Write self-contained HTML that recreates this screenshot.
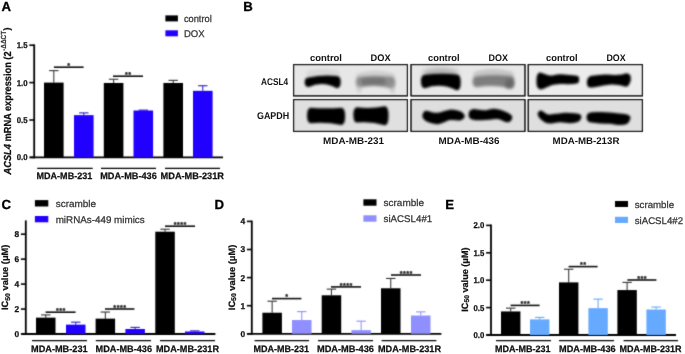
<!DOCTYPE html>
<html><head><meta charset="utf-8"><style>
html,body{margin:0;padding:0;background:#fff;width:685px;height:354px;overflow:hidden}
svg{display:block}
text{font-family:"Liberation Sans",sans-serif;text-rendering:geometricPrecision}
</style></head><body>
<svg width="685" height="354" viewBox="0 0 685 354" font-family="Liberation Sans, sans-serif">
<defs><filter id="gb" x="0" y="0" width="685" height="354" filterUnits="userSpaceOnUse" color-interpolation-filters="sRGB"><feConvolveMatrix order="3" kernelMatrix="0.01917 0.10012 0.01917 0.10012 0.52283 0.10012 0.01917 0.10012 0.01917" edgeMode="duplicate"/></filter><filter id="idf" x="0" y="0" width="685" height="354" filterUnits="userSpaceOnUse"><feOffset dx="0" dy="0"/></filter></defs>
<g filter="url(#gb)">
<rect width="685" height="354" fill="#fff"/>
<line x1="34.2" y1="44.4" x2="34.2" y2="158.3" stroke="#000" stroke-width="1.8"/>
<line x1="30" y1="157.4" x2="223" y2="157.4" stroke="#000" stroke-width="1.8"/>
<line x1="29.300000000000004" y1="157.4" x2="34.2" y2="157.4" stroke="#000" stroke-width="1.6"/>
<line x1="29.300000000000004" y1="120.0" x2="34.2" y2="120.0" stroke="#000" stroke-width="1.6"/>
<line x1="29.300000000000004" y1="82.60000000000001" x2="34.2" y2="82.60000000000001" stroke="#000" stroke-width="1.6"/>
<line x1="29.300000000000004" y1="45.20000000000002" x2="34.2" y2="45.20000000000002" stroke="#000" stroke-width="1.6"/>
<line x1="53.8" y1="70.63200000000002" x2="53.8" y2="82.60000000000001" stroke="#333" stroke-width="1.05"/>
<line x1="49.099999999999994" y1="70.63200000000002" x2="58.5" y2="70.63200000000002" stroke="#333" stroke-width="1.1"/>
<rect x="44" y="82.60000000000001" width="19.6" height="74.8" fill="#000"/>
<line x1="83.8" y1="112.894" x2="83.8" y2="115.138" stroke="#2a20c0" stroke-width="1.05"/>
<line x1="79.1" y1="112.894" x2="88.5" y2="112.894" stroke="#2a20c0" stroke-width="1.1"/>
<rect x="74" y="115.138" width="19.6" height="42.262" fill="#2200ff"/>
<line x1="113.6" y1="79.23400000000001" x2="113.6" y2="82.974" stroke="#333" stroke-width="1.05"/>
<line x1="108.89999999999999" y1="79.23400000000001" x2="118.3" y2="79.23400000000001" stroke="#333" stroke-width="1.1"/>
<rect x="103.8" y="82.974" width="19.6" height="74.426" fill="#000"/>
<line x1="143.3" y1="110.1264" x2="143.3" y2="110.50040000000001" stroke="#2a20c0" stroke-width="1.05"/>
<line x1="138.60000000000002" y1="110.1264" x2="148.0" y2="110.1264" stroke="#2a20c0" stroke-width="1.1"/>
<rect x="133.5" y="110.50040000000001" width="19.6" height="46.89959999999999" fill="#2200ff"/>
<line x1="173.20000000000002" y1="80.35600000000001" x2="173.20000000000002" y2="82.974" stroke="#333" stroke-width="1.05"/>
<line x1="168.50000000000003" y1="80.35600000000001" x2="177.9" y2="80.35600000000001" stroke="#333" stroke-width="1.1"/>
<rect x="163.4" y="82.974" width="19.6" height="74.426" fill="#000"/>
<line x1="202.8" y1="85.7416" x2="202.8" y2="90.828" stroke="#2a20c0" stroke-width="1.05"/>
<line x1="198.10000000000002" y1="85.7416" x2="207.5" y2="85.7416" stroke="#2a20c0" stroke-width="1.1"/>
<rect x="193" y="90.828" width="19.6" height="66.572" fill="#2200ff"/>
<line x1="53.9" y1="67.2" x2="83.6" y2="67.2" stroke="#111" stroke-width="1.6"/>
<text x="69.0" y="68.0" font-size="7.2" font-weight="bold" text-anchor="middle" fill="#1a1a1a" stroke="#1a1a1a" stroke-width="0.3" letter-spacing="0.5">*</text>
<line x1="113" y1="76.2" x2="143" y2="76.2" stroke="#111" stroke-width="1.6"/>
<text x="128.25" y="77.0" font-size="7.2" font-weight="bold" text-anchor="middle" fill="#1a1a1a" stroke="#1a1a1a" stroke-width="0.3" letter-spacing="0.5">**</text>
<line x1="37.2" y1="168.4" x2="92.7" y2="168.4" stroke="#000" stroke-width="1.4"/>
<line x1="101" y1="168.4" x2="156" y2="168.4" stroke="#000" stroke-width="1.4"/>
<line x1="165" y1="168.4" x2="220" y2="168.4" stroke="#000" stroke-width="1.4"/>
<rect x="165.4" y="15.4" width="12.5" height="6" fill="#000"/>
<rect x="165.4" y="30.3" width="12.5" height="6" fill="#2200ff"/>
<line x1="25.8" y1="220.4" x2="25.8" y2="334.9" stroke="#000" stroke-width="1.8"/>
<line x1="21.4" y1="334" x2="215.4" y2="334" stroke="#000" stroke-width="1.8"/>
<line x1="20.9" y1="334.0" x2="25.8" y2="334.0" stroke="#000" stroke-width="1.6"/>
<line x1="20.9" y1="309.05" x2="25.8" y2="309.05" stroke="#000" stroke-width="1.6"/>
<line x1="20.9" y1="284.1" x2="25.8" y2="284.1" stroke="#000" stroke-width="1.6"/>
<line x1="20.9" y1="259.15" x2="25.8" y2="259.15" stroke="#000" stroke-width="1.6"/>
<line x1="20.9" y1="234.2" x2="25.8" y2="234.2" stroke="#000" stroke-width="1.6"/>
<line x1="45.75" y1="314.91325" x2="45.75" y2="317.65775" stroke="#333" stroke-width="1.05"/>
<line x1="41.05" y1="314.91325" x2="50.45" y2="314.91325" stroke="#333" stroke-width="1.1"/>
<rect x="36" y="317.65775" width="19.5" height="16.34224999999998" fill="#000"/>
<line x1="75.75" y1="322.14875" x2="75.75" y2="324.64375" stroke="#2a20c0" stroke-width="1.05"/>
<line x1="71.05" y1="322.14875" x2="80.45" y2="322.14875" stroke="#2a20c0" stroke-width="1.1"/>
<rect x="66" y="324.64375" width="19.5" height="9.356249999999989" fill="#2200ff"/>
<line x1="105.35" y1="312.044" x2="105.35" y2="318.65575" stroke="#333" stroke-width="1.05"/>
<line x1="100.64999999999999" y1="312.044" x2="110.05" y2="312.044" stroke="#333" stroke-width="1.1"/>
<rect x="95.6" y="318.65575" width="19.5" height="15.344249999999988" fill="#000"/>
<line x1="135.15" y1="327.38825" x2="135.15" y2="329.01" stroke="#2a20c0" stroke-width="1.05"/>
<line x1="130.45000000000002" y1="327.38825" x2="139.85" y2="327.38825" stroke="#2a20c0" stroke-width="1.1"/>
<rect x="125.4" y="329.01" width="19.5" height="4.990000000000009" fill="#2200ff"/>
<line x1="165.05" y1="229.21000000000004" x2="165.05" y2="231.705" stroke="#333" stroke-width="1.05"/>
<line x1="160.35000000000002" y1="229.21000000000004" x2="169.75" y2="229.21000000000004" stroke="#333" stroke-width="1.1"/>
<rect x="155.3" y="231.705" width="19.5" height="102.29499999999999" fill="#000"/>
<line x1="194.75" y1="330.88125" x2="194.75" y2="331.505" stroke="#2a20c0" stroke-width="1.05"/>
<line x1="190.05" y1="330.88125" x2="199.45" y2="330.88125" stroke="#2a20c0" stroke-width="1.1"/>
<rect x="185" y="331.505" width="19.5" height="2.4950000000000045" fill="#2200ff"/>
<line x1="45.6" y1="312.2" x2="75.6" y2="312.2" stroke="#111" stroke-width="1.6"/>
<text x="60.849999999999994" y="313.0" font-size="7.2" font-weight="bold" text-anchor="middle" fill="#1a1a1a" stroke="#1a1a1a" stroke-width="0.3" letter-spacing="0.5">***</text>
<line x1="105" y1="309" x2="134.4" y2="309" stroke="#111" stroke-width="1.6"/>
<text x="119.95" y="309.8" font-size="7.2" font-weight="bold" text-anchor="middle" fill="#1a1a1a" stroke="#1a1a1a" stroke-width="0.3" letter-spacing="0.5">****</text>
<line x1="165" y1="226.2" x2="195" y2="226.2" stroke="#111" stroke-width="1.6"/>
<text x="180.25" y="227.0" font-size="7.2" font-weight="bold" text-anchor="middle" fill="#1a1a1a" stroke="#1a1a1a" stroke-width="0.3" letter-spacing="0.5">****</text>
<line x1="32" y1="340.6" x2="87" y2="340.6" stroke="#000" stroke-width="1.4"/>
<line x1="95.8" y1="340.6" x2="151" y2="340.6" stroke="#000" stroke-width="1.4"/>
<line x1="160" y1="340.6" x2="215" y2="340.6" stroke="#000" stroke-width="1.4"/>
<rect x="34.9" y="200.1" width="13.4" height="6.4" fill="#000"/>
<rect x="34.9" y="216" width="13.4" height="6.3" fill="#2200ff"/>
<line x1="251.8" y1="220.6" x2="251.8" y2="334.7" stroke="#000" stroke-width="1.8"/>
<line x1="247" y1="333.8" x2="441.4" y2="333.8" stroke="#000" stroke-width="1.8"/>
<line x1="246.9" y1="333.8" x2="251.8" y2="333.8" stroke="#000" stroke-width="1.6"/>
<line x1="246.9" y1="305.7" x2="251.8" y2="305.7" stroke="#000" stroke-width="1.6"/>
<line x1="246.9" y1="277.6" x2="251.8" y2="277.6" stroke="#000" stroke-width="1.6"/>
<line x1="246.9" y1="249.5" x2="251.8" y2="249.5" stroke="#000" stroke-width="1.6"/>
<line x1="246.9" y1="221.4" x2="251.8" y2="221.4" stroke="#000" stroke-width="1.6"/>
<line x1="272.15" y1="301.204" x2="272.15" y2="312.725" stroke="#333" stroke-width="1.05"/>
<line x1="267.45" y1="301.204" x2="276.84999999999997" y2="301.204" stroke="#333" stroke-width="1.1"/>
<rect x="262.4" y="312.725" width="19.5" height="21.07499999999999" fill="#000"/>
<line x1="301.75" y1="311.601" x2="301.75" y2="320.031" stroke="#8f8fff" stroke-width="1.05"/>
<line x1="297.05" y1="311.601" x2="306.45" y2="311.601" stroke="#8f8fff" stroke-width="1.1"/>
<rect x="292" y="320.031" width="19.5" height="13.769000000000005" fill="#8f8fff"/>
<line x1="331.45" y1="289.121" x2="331.45" y2="295.303" stroke="#333" stroke-width="1.05"/>
<line x1="326.75" y1="289.121" x2="336.15" y2="289.121" stroke="#333" stroke-width="1.1"/>
<rect x="321.7" y="295.303" width="19.5" height="38.497000000000014" fill="#000"/>
<line x1="361.15" y1="321.15500000000003" x2="361.15" y2="330.147" stroke="#8f8fff" stroke-width="1.05"/>
<line x1="356.45" y1="321.15500000000003" x2="365.84999999999997" y2="321.15500000000003" stroke="#8f8fff" stroke-width="1.1"/>
<rect x="351.4" y="330.147" width="19.5" height="3.65300000000002" fill="#8f8fff"/>
<line x1="390.75" y1="278.443" x2="390.75" y2="288.278" stroke="#333" stroke-width="1.05"/>
<line x1="386.05" y1="278.443" x2="395.45" y2="278.443" stroke="#333" stroke-width="1.1"/>
<rect x="381" y="288.278" width="19.5" height="45.52199999999999" fill="#000"/>
<line x1="420.75" y1="311.882" x2="420.75" y2="315.535" stroke="#8f8fff" stroke-width="1.05"/>
<line x1="416.05" y1="311.882" x2="425.45" y2="311.882" stroke="#8f8fff" stroke-width="1.1"/>
<rect x="411" y="315.535" width="19.5" height="18.264999999999986" fill="#8f8fff"/>
<line x1="272" y1="298.6" x2="301.4" y2="298.6" stroke="#111" stroke-width="1.6"/>
<text x="286.95" y="299.40000000000003" font-size="7.2" font-weight="bold" text-anchor="middle" fill="#1a1a1a" stroke="#1a1a1a" stroke-width="0.3" letter-spacing="0.5">*</text>
<line x1="331" y1="286.9" x2="361" y2="286.9" stroke="#111" stroke-width="1.6"/>
<text x="346.25" y="287.7" font-size="7.2" font-weight="bold" text-anchor="middle" fill="#1a1a1a" stroke="#1a1a1a" stroke-width="0.3" letter-spacing="0.5">****</text>
<line x1="391" y1="275" x2="421" y2="275" stroke="#111" stroke-width="1.6"/>
<text x="406.25" y="275.8" font-size="7.2" font-weight="bold" text-anchor="middle" fill="#1a1a1a" stroke="#1a1a1a" stroke-width="0.3" letter-spacing="0.5">****</text>
<line x1="254.6" y1="340.6" x2="309" y2="340.6" stroke="#000" stroke-width="1.4"/>
<line x1="318" y1="340.6" x2="373" y2="340.6" stroke="#000" stroke-width="1.4"/>
<line x1="381.6" y1="340.6" x2="436.4" y2="340.6" stroke="#000" stroke-width="1.4"/>
<rect x="363.4" y="199.3" width="13.1" height="6.4" fill="#000"/>
<rect x="363.4" y="215.3" width="13.1" height="6.4" fill="#8f8fff"/>
<line x1="491" y1="224.6" x2="491" y2="335.9" stroke="#000" stroke-width="1.8"/>
<line x1="486.4" y1="335" x2="676" y2="335" stroke="#000" stroke-width="1.8"/>
<line x1="486.1" y1="335.0" x2="491" y2="335.0" stroke="#000" stroke-width="1.6"/>
<line x1="486.1" y1="307.6" x2="491" y2="307.6" stroke="#000" stroke-width="1.6"/>
<line x1="486.1" y1="280.2" x2="491" y2="280.2" stroke="#000" stroke-width="1.6"/>
<line x1="486.1" y1="252.8" x2="491" y2="252.8" stroke="#000" stroke-width="1.6"/>
<line x1="486.1" y1="225.4" x2="491" y2="225.4" stroke="#000" stroke-width="1.6"/>
<line x1="510.7" y1="308.148" x2="510.7" y2="311.436" stroke="#333" stroke-width="1.05"/>
<line x1="506.0" y1="308.148" x2="515.4" y2="308.148" stroke="#333" stroke-width="1.1"/>
<rect x="501" y="311.436" width="19.4" height="23.56400000000002" fill="#000"/>
<line x1="539.7" y1="317.4092" x2="539.7" y2="319.382" stroke="#66aaff" stroke-width="1.05"/>
<line x1="535.0" y1="317.4092" x2="544.4000000000001" y2="317.4092" stroke="#66aaff" stroke-width="1.1"/>
<rect x="530" y="319.382" width="19.4" height="15.617999999999995" fill="#66aaff"/>
<line x1="568.7" y1="269.24" x2="568.7" y2="282.392" stroke="#333" stroke-width="1.05"/>
<line x1="564.0" y1="269.24" x2="573.4000000000001" y2="269.24" stroke="#333" stroke-width="1.1"/>
<rect x="559" y="282.392" width="19.4" height="52.608000000000004" fill="#000"/>
<line x1="598.1" y1="299.106" x2="598.1" y2="308.148" stroke="#66aaff" stroke-width="1.05"/>
<line x1="593.4" y1="299.106" x2="602.8000000000001" y2="299.106" stroke="#66aaff" stroke-width="1.1"/>
<rect x="588.4" y="308.148" width="19.4" height="26.851999999999975" fill="#66aaff"/>
<line x1="627.1" y1="282.392" x2="627.1" y2="290.064" stroke="#333" stroke-width="1.05"/>
<line x1="622.4" y1="282.392" x2="631.8000000000001" y2="282.392" stroke="#333" stroke-width="1.1"/>
<rect x="617.4" y="290.064" width="19.4" height="44.93599999999998" fill="#000"/>
<line x1="656.1" y1="307.052" x2="656.1" y2="309.51800000000003" stroke="#66aaff" stroke-width="1.05"/>
<line x1="651.4" y1="307.052" x2="660.8000000000001" y2="307.052" stroke="#66aaff" stroke-width="1.1"/>
<rect x="646.4" y="309.51800000000003" width="19.4" height="25.48199999999997" fill="#66aaff"/>
<line x1="510.6" y1="305.4" x2="539.6" y2="305.4" stroke="#111" stroke-width="1.6"/>
<text x="525.35" y="306.2" font-size="7.2" font-weight="bold" text-anchor="middle" fill="#1a1a1a" stroke="#1a1a1a" stroke-width="0.3" letter-spacing="0.5">***</text>
<line x1="568.6" y1="266.6" x2="597.6" y2="266.6" stroke="#111" stroke-width="1.6"/>
<text x="583.35" y="267.40000000000003" font-size="7.2" font-weight="bold" text-anchor="middle" fill="#1a1a1a" stroke="#1a1a1a" stroke-width="0.3" letter-spacing="0.5">**</text>
<line x1="627.4" y1="280" x2="656.4" y2="280" stroke="#111" stroke-width="1.6"/>
<text x="642.15" y="280.8" font-size="7.2" font-weight="bold" text-anchor="middle" fill="#1a1a1a" stroke="#1a1a1a" stroke-width="0.3" letter-spacing="0.5">***</text>
<line x1="496" y1="340.6" x2="551" y2="340.6" stroke="#000" stroke-width="1.4"/>
<line x1="559" y1="340.6" x2="614" y2="340.6" stroke="#000" stroke-width="1.4"/>
<line x1="623.6" y1="340.6" x2="678" y2="340.6" stroke="#000" stroke-width="1.4"/>
<rect x="615" y="201" width="13" height="6" fill="#000"/>
<rect x="615" y="216.8" width="13" height="6.2" fill="#66aaff"/>
<defs>
<filter id="bl1" x="-30%" y="-60%" width="160%" height="220%"><feGaussianBlur stdDeviation="1.3"/></filter>
<filter id="bl2" x="-30%" y="-60%" width="160%" height="220%"><feGaussianBlur stdDeviation="1.6"/></filter>
<filter id="bl3" x="-30%" y="-80%" width="160%" height="260%"><feGaussianBlur stdDeviation="2.4"/></filter>
<linearGradient id="bg" x1="0" y1="0" x2="0" y2="1"><stop offset="0" stop-color="#e2e2e2"/><stop offset="1" stop-color="#e6e6e6"/></linearGradient>
</defs>
<rect x="293.6" y="64.6" width="113.8" height="31.3" fill="#e7e7e7" stroke="#111" stroke-width="1.0"/>
<rect x="293.6" y="99.6" width="113.8" height="31.8" fill="#e0e0e0" stroke="#111" stroke-width="1.0"/>
<rect x="411.0" y="64.6" width="114.00000000000004" height="31.3" fill="#e8e8e8" stroke="#111" stroke-width="1.0"/>
<rect x="411.0" y="99.6" width="114.00000000000004" height="31.8" fill="#dedede" stroke="#111" stroke-width="1.0"/>
<rect x="528.2" y="64.6" width="114.19999999999997" height="31.3" fill="#ececec" stroke="#111" stroke-width="1.0"/>
<rect x="528.2" y="99.6" width="114.19999999999997" height="31.8" fill="#dfdfdf" stroke="#111" stroke-width="1.0"/>
<g clip-path="none">
<path d="M357,76.25 Q357,73.5 360.0,73.5 Q375.5,69.50 391.0,73.5 Q394,73.5 394,76.25 Q394,79 391.0,79 Q375.5,79.00 360.0,79 Q357,79 357,76.25 Z" fill="#b8b8b8" stroke="#b8b8b8" stroke-width="1.5" filter="url(#bl2)" opacity="0.5"/>
<path d="M307,74.50 Q307,71 310.0,71 Q323.0,68.00 336.0,71 Q339,71 339,74.50 Q339,78 336.0,78 Q323.0,78.00 310.0,78 Q307,78 307,74.50 Z" fill="#c4c4c4" stroke="#c4c4c4" stroke-width="1.5" filter="url(#bl2)" opacity="0.45"/>
<path d="M305.4,82.20 Q305.4,78.2 308.59999999999997,78.2 Q322.7,75.30 336.8,76.8 Q340.0,76.8 340.0,82.10 Q340.0,87.4 336.8,87.4 Q322.7,79.60 308.59999999999997,86.2 Q305.4,86.2 305.4,82.20 Z" fill="#000" stroke="#000" stroke-width="1.5" filter="url(#bl1)" opacity="1"/>
<path d="M356.6,82.10 Q356.6,77.4 360.1,77.4 Q375.6,76.20 391.1,77.4 Q394.6,77.4 394.6,82.60 Q394.6,87.8 391.1,87.8 Q375.6,82.70 360.1,86.8 Q356.6,86.8 356.6,82.10 Z" fill="#7a7a7a" stroke="#7a7a7a" stroke-width="1.5" filter="url(#bl2)" opacity="0.82"/>
<path d="M390.5,88.50 Q390.5,84 392.0,84 Q392.5,84.00 393.0,84 Q394.5,84 394.5,88.50 Q394.5,93 393.0,93 Q392.5,93.00 392.0,93 Q390.5,93 390.5,88.50 Z" fill="#a8a8a8" stroke="#a8a8a8" stroke-width="1.5" filter="url(#bl2)" opacity="0.35"/>
<path d="M357,88.00 Q357,84 358.5,84 Q359.0,84.00 359.5,84 Q361,84 361,88.00 Q361,92 359.5,92 Q359.0,92.00 358.5,92 Q357,92 357,88.00 Z" fill="#a8a8a8" stroke="#a8a8a8" stroke-width="1.5" filter="url(#bl2)" opacity="0.35"/>
<path d="M362,81.75 Q362,79 365,79 Q373.5,78.00 382,79 Q385,79 385,81.75 Q385,84.5 382,84.5 Q373.5,83.50 365,84.5 Q362,84.5 362,81.75 Z" fill="#555" stroke="#555" stroke-width="1.5" filter="url(#bl2)" opacity="0.45"/>
<path d="M307.8,115.40 Q307.8,108.4 310.8,108.4 Q326.1,109.40 341.4,108.4 Q344.4,108.4 344.4,116.30 Q344.4,124.2 341.4,124.2 Q326.1,121.10 310.8,122.4 Q307.8,122.4 307.8,115.40 Z" fill="#000" stroke="#000" stroke-width="1.5" filter="url(#bl1)" opacity="1"/>
<path d="M354.1,114.90 Q354.1,108.0 357.1,108.0 Q370.95000000000005,109.70 384.8,107.0 Q387.8,107.0 387.8,115.80 Q387.8,124.6 384.8,124.6 Q370.95000000000005,120.40 357.1,121.8 Q354.1,121.8 354.1,114.90 Z" fill="#000" stroke="#000" stroke-width="1.5" filter="url(#bl1)" opacity="1"/>
<path d="M424,74.25 Q424,70.5 427.0,70.5 Q440.5,66.50 454.0,70.5 Q457,70.5 457,74.25 Q457,78 454.0,78 Q440.5,78.00 427.0,78 Q424,78 424,74.25 Z" fill="#606060" stroke="#606060" stroke-width="1.5" filter="url(#bl3)" opacity="0.4"/>
<path d="M421.7,81.55 Q421.7,75.6 424.9,75.6 Q440.85,73.40 456.8,75.2 Q460.0,75.2 460.0,82.40 Q460.0,89.6 456.8,89.6 Q440.85,81.85 424.9,87.5 Q421.7,87.5 421.7,81.55 Z" fill="#000" stroke="#000" stroke-width="1.5" filter="url(#bl1)" opacity="1"/>
<path d="M474,75.50 Q474,72 477.0,72 Q493.5,67.00 510.0,72 Q513,72 513,75.50 Q513,79 510.0,79 Q493.5,79.00 477.0,79 Q474,79 474,75.50 Z" fill="#aaaaaa" stroke="#aaaaaa" stroke-width="1.5" filter="url(#bl2)" opacity="0.55"/>
<path d="M473.3,81.80 Q473.3,77.2 476.8,77.2 Q493.54999999999995,75.00 510.29999999999995,76.8 Q513.8,76.8 513.8,82.10 Q513.8,87.4 510.29999999999995,87.4 Q493.54999999999995,83.50 476.8,86.4 Q473.3,86.4 473.3,81.80 Z" fill="#747474" stroke="#747474" stroke-width="1.5" filter="url(#bl2)" opacity="0.92"/>
<path d="M506,84.00 Q506,80 508,80 Q509.5,80.00 511,80 Q513,80 513,84.00 Q513,88 511,88 Q509.5,88.00 508,88 Q506,88 506,84.00 Z" fill="#555" stroke="#555" stroke-width="1.5" filter="url(#bl2)" opacity="0.55"/>
<path d="M423.40,114.50 C423.83,113.52 423.73,111.75 426.00,111.60 C428.27,111.45 433.00,113.80 437.00,113.60 C441.00,113.40 446.17,110.67 450.00,110.40 C453.83,110.13 457.73,111.23 460.00,112.00 C462.27,112.77 463.00,114.08 463.60,115.00 C464.20,115.92 464.20,116.72 463.60,117.50 C463.00,118.28 462.27,119.40 460.00,119.70 C457.73,120.00 453.67,118.68 450.00,119.30 C446.33,119.92 441.83,123.15 438.00,123.40 C434.17,123.65 429.43,121.78 427.00,120.80 C424.57,119.82 424.00,118.55 423.40,117.50 C422.80,116.45 422.97,115.48 423.40,114.50Z" fill="#000" stroke="#000" stroke-width="1.5" filter="url(#bl1)" opacity="1"/>
<path d="M469.40,114.00 C469.52,113.00 469.73,111.70 470.50,111.00 C471.27,110.30 472.42,109.87 474.00,109.80 C475.58,109.73 478.00,110.40 480.00,110.60 C482.00,110.80 483.83,111.18 486.00,111.00 C488.17,110.82 490.67,109.58 493.00,109.50 C495.33,109.42 497.67,109.88 500.00,110.50 C502.33,111.12 505.17,112.28 507.00,113.20 C508.83,114.12 510.28,115.12 511.00,116.00 C511.72,116.88 511.63,117.62 511.30,118.50 C510.97,119.38 510.05,120.88 509.00,121.30 C507.95,121.72 506.83,121.52 505.00,121.00 C503.17,120.48 500.50,118.53 498.00,118.20 C495.50,117.87 493.00,118.77 490.00,119.00 C487.00,119.23 482.83,119.60 480.00,119.60 C477.17,119.60 474.70,119.43 473.00,119.00 C471.30,118.57 470.40,117.83 469.80,117.00 C469.20,116.17 469.28,115.00 469.40,114.00Z" fill="#000" stroke="#000" stroke-width="1.5" filter="url(#bl1)" opacity="1"/>
<path d="M537.30,78.00 C537.47,76.13 537.88,75.07 538.50,74.30 C539.12,73.53 539.08,73.07 541.00,73.40 C542.92,73.73 547.33,76.00 550.00,76.30 C552.67,76.60 555.00,75.42 557.00,75.20 C559.00,74.98 559.83,74.90 562.00,75.00 C564.17,75.10 567.58,75.57 570.00,75.80 C572.42,76.03 575.13,76.12 576.50,76.40 C577.87,76.68 577.92,76.65 578.20,77.50 C578.48,78.35 578.48,80.62 578.20,81.50 C577.92,82.38 578.20,82.48 576.50,82.80 C574.80,83.12 570.75,83.33 568.00,83.40 C565.25,83.47 562.67,83.05 560.00,83.20 C557.33,83.35 554.50,83.62 552.00,84.30 C549.50,84.98 547.00,86.58 545.00,87.30 C543.00,88.02 541.25,88.90 540.00,88.60 C538.75,88.30 537.95,87.27 537.50,85.50 C537.05,83.73 537.13,79.87 537.30,78.00Z" fill="#000" stroke="#000" stroke-width="1.5" filter="url(#bl1)" opacity="1"/>
<path d="M587.70,81.00 C587.87,79.83 588.28,78.73 589.00,78.00 C589.72,77.27 589.33,77.05 592.00,76.60 C594.67,76.15 601.17,75.45 605.00,75.30 C608.83,75.15 612.17,75.70 615.00,75.70 C617.83,75.70 620.08,75.60 622.00,75.30 C623.92,75.00 625.25,73.87 626.50,73.90 C627.75,73.93 628.92,74.82 629.50,75.50 C630.08,76.18 629.95,77.08 630.00,78.00 C630.05,78.92 630.30,79.70 629.80,81.00 C629.30,82.30 628.63,85.22 627.00,85.80 C625.37,86.38 622.50,84.83 620.00,84.50 C617.50,84.17 614.50,83.80 612.00,83.80 C609.50,83.80 607.50,84.13 605.00,84.50 C602.50,84.87 599.50,85.62 597.00,86.00 C594.50,86.38 591.50,86.97 590.00,86.80 C588.50,86.63 588.38,85.97 588.00,85.00 C587.62,84.03 587.53,82.17 587.70,81.00Z" fill="#000" stroke="#000" stroke-width="1.5" filter="url(#bl1)" opacity="1"/>
<path d="M538.40,114.00 C538.32,113.05 538.90,112.20 539.50,111.80 C540.10,111.40 540.75,111.07 542.00,111.60 C543.25,112.13 544.83,114.50 547.00,115.00 C549.17,115.50 552.00,114.85 555.00,114.60 C558.00,114.35 561.67,113.62 565.00,113.50 C568.33,113.38 572.58,113.68 575.00,113.90 C577.42,114.12 578.57,114.20 579.50,114.80 C580.43,115.40 580.85,116.47 580.60,117.50 C580.35,118.53 579.77,120.18 578.00,121.00 C576.23,121.82 573.00,122.30 570.00,122.40 C567.00,122.50 563.33,121.55 560.00,121.60 C556.67,121.65 552.50,122.72 550.00,122.70 C547.50,122.68 546.67,122.37 545.00,121.50 C543.33,120.63 541.10,118.75 540.00,117.50 C538.90,116.25 538.48,114.95 538.40,114.00Z" fill="#000" stroke="#000" stroke-width="1.5" filter="url(#bl1)" opacity="1"/>
<path d="M587.30,117.00 C587.42,116.08 587.72,114.67 588.50,114.00 C589.28,113.33 590.08,113.20 592.00,113.00 C593.92,112.80 597.00,112.77 600.00,112.80 C603.00,112.83 606.67,112.95 610.00,113.20 C613.33,113.45 617.33,114.00 620.00,114.30 C622.67,114.60 624.45,114.63 626.00,115.00 C627.55,115.37 628.72,115.83 629.30,116.50 C629.88,117.17 629.88,117.92 629.50,119.00 C629.12,120.08 628.58,122.13 627.00,123.00 C625.42,123.87 622.83,124.18 620.00,124.20 C617.17,124.22 613.33,123.35 610.00,123.10 C606.67,122.85 603.33,122.95 600.00,122.70 C596.67,122.45 592.03,122.13 590.00,121.60 C587.97,121.07 588.25,120.27 587.80,119.50 C587.35,118.73 587.18,117.92 587.30,117.00Z" fill="#000" stroke="#000" stroke-width="1.5" filter="url(#bl1)" opacity="1"/>
</g>
<rect x="293.6" y="64.6" width="113.8" height="31.3" fill="none" stroke="#111" stroke-width="1.0"/>
<rect x="293.6" y="99.6" width="113.8" height="31.8" fill="none" stroke="#111" stroke-width="1.0"/>
<rect x="411.0" y="64.6" width="114.00000000000004" height="31.3" fill="none" stroke="#111" stroke-width="1.0"/>
<rect x="411.0" y="99.6" width="114.00000000000004" height="31.8" fill="none" stroke="#111" stroke-width="1.0"/>
<rect x="528.2" y="64.6" width="114.19999999999997" height="31.3" fill="none" stroke="#111" stroke-width="1.0"/>
<rect x="528.2" y="99.6" width="114.19999999999997" height="31.8" fill="none" stroke="#111" stroke-width="1.0"/>
</g>
<g filter="url(#idf)">
<text x="1.6" y="10.7" font-size="13.2" font-weight="bold" text-anchor="start" fill="#000" stroke="#000" stroke-width="0.3" >A</text>
<text x="243.2" y="10.7" font-size="13.2" font-weight="bold" text-anchor="start" fill="#000" stroke="#000" stroke-width="0.3" >B</text>
<text x="1.4" y="209.4" font-size="13.2" font-weight="bold" text-anchor="start" fill="#000" stroke="#000" stroke-width="0.3" >C</text>
<text x="214.4" y="209.4" font-size="13.2" font-weight="bold" text-anchor="start" fill="#000" stroke="#000" stroke-width="0.3" >D</text>
<text x="445.2" y="209.4" font-size="13.2" font-weight="bold" text-anchor="start" fill="#000" stroke="#000" stroke-width="0.3" >E</text>
<text x="27.6" y="160.34" font-size="8.4" font-weight="bold" text-anchor="end" fill="#111" stroke="#111" stroke-width="0.25" textLength="10.86" lengthAdjust="spacingAndGlyphs" >0.0</text>
<text x="27.6" y="122.94" font-size="8.4" font-weight="bold" text-anchor="end" fill="#111" stroke="#111" stroke-width="0.25" textLength="10.86" lengthAdjust="spacingAndGlyphs" >0.5</text>
<text x="27.6" y="85.54" font-size="8.4" font-weight="bold" text-anchor="end" fill="#111" stroke="#111" stroke-width="0.25" textLength="10.86" lengthAdjust="spacingAndGlyphs" >1.0</text>
<text x="27.6" y="48.140000000000015" font-size="8.4" font-weight="bold" text-anchor="end" fill="#111" stroke="#111" stroke-width="0.25" textLength="10.86" lengthAdjust="spacingAndGlyphs" >1.5</text>
<text x="36.5" y="179.2" font-size="9.3" font-weight="bold" text-anchor="start" fill="#111" stroke="#111" stroke-width="0.25" textLength="55.8" lengthAdjust="spacingAndGlyphs" >MDA-MB-231</text>
<text x="100.2" y="179.2" font-size="9.3" font-weight="bold" text-anchor="start" fill="#111" stroke="#111" stroke-width="0.25" textLength="56.6" lengthAdjust="spacingAndGlyphs" >MDA-MB-436</text>
<text x="160.6" y="179.2" font-size="9.3" font-weight="bold" text-anchor="start" fill="#111" stroke="#111" stroke-width="0.25" textLength="63.4" lengthAdjust="spacingAndGlyphs" >MDA-MB-231R</text>
<text transform="translate(10.5,174.4) rotate(-90)" font-size="10.2" font-weight="bold" fill="#111" stroke="#111" stroke-width="0.25" textLength="123" lengthAdjust="spacingAndGlyphs"><tspan font-style="italic">ACSL4</tspan> mRNA expression (2</text>
<text transform="translate(6.4,50.9) rotate(-90)" font-size="7.4" font-weight="bold" fill="#333" stroke="#333" stroke-width="0.15" textLength="20" lengthAdjust="spacingAndGlyphs">-ΔΔCT</text>
<text transform="translate(10.3,30.6) rotate(-90)" font-size="9.2" font-weight="bold" fill="#111" stroke="#111" stroke-width="0.25">)</text>
<text x="183.9" y="21.7" font-size="9.7" font-weight="normal" text-anchor="start" fill="#333" stroke="#333" stroke-width="0.25" textLength="27.8" lengthAdjust="spacingAndGlyphs" >control</text>
<text x="183.9" y="37.2" font-size="9.7" font-weight="normal" text-anchor="start" fill="#333" stroke="#333" stroke-width="0.25" textLength="20.6" lengthAdjust="spacingAndGlyphs" >DOX</text>
<text x="19.200000000000003" y="336.94" font-size="8.4" font-weight="bold" text-anchor="end" fill="#111" stroke="#111" stroke-width="0.25" >0</text>
<text x="19.200000000000003" y="311.99" font-size="8.4" font-weight="bold" text-anchor="end" fill="#111" stroke="#111" stroke-width="0.25" >2</text>
<text x="19.200000000000003" y="287.04" font-size="8.4" font-weight="bold" text-anchor="end" fill="#111" stroke="#111" stroke-width="0.25" >4</text>
<text x="19.200000000000003" y="262.09" font-size="8.4" font-weight="bold" text-anchor="end" fill="#111" stroke="#111" stroke-width="0.25" >6</text>
<text x="19.200000000000003" y="237.14" font-size="8.4" font-weight="bold" text-anchor="end" fill="#111" stroke="#111" stroke-width="0.25" >8</text>
<text x="31" y="351.7" font-size="9.3" font-weight="bold" text-anchor="start" fill="#111" stroke="#111" stroke-width="0.25" textLength="56.6" lengthAdjust="spacingAndGlyphs" >MDA-MB-231</text>
<text x="95.6" y="351.7" font-size="9.3" font-weight="bold" text-anchor="start" fill="#111" stroke="#111" stroke-width="0.25" textLength="56.4" lengthAdjust="spacingAndGlyphs" >MDA-MB-436</text>
<text x="156" y="351.7" font-size="9.3" font-weight="bold" text-anchor="start" fill="#111" stroke="#111" stroke-width="0.25" textLength="63" lengthAdjust="spacingAndGlyphs" >MDA-MB-231R</text>
<text transform="translate(8.4,310.0) rotate(-90)" font-size="9.2" font-weight="bold" fill="#111" stroke="#111" stroke-width="0.25" textLength="65.4" lengthAdjust="spacingAndGlyphs">IC<tspan font-size="6.8" dy="1.7">50</tspan><tspan dy="-1.7"> value (μM)</tspan></text>
<text x="55.7" y="206.7" font-size="9.7" font-weight="normal" text-anchor="start" fill="#333" stroke="#333" stroke-width="0.25" textLength="40.4" lengthAdjust="spacingAndGlyphs" >scramble</text>
<text x="55.7" y="222.6" font-size="9.7" font-weight="normal" text-anchor="start" fill="#333" stroke="#333" stroke-width="0.25" textLength="89" lengthAdjust="spacingAndGlyphs" >miRNAs-449 mimics</text>
<text x="245.20000000000002" y="336.74" font-size="8.4" font-weight="bold" text-anchor="end" fill="#111" stroke="#111" stroke-width="0.25" >0</text>
<text x="245.20000000000002" y="308.64" font-size="8.4" font-weight="bold" text-anchor="end" fill="#111" stroke="#111" stroke-width="0.25" >1</text>
<text x="245.20000000000002" y="280.54" font-size="8.4" font-weight="bold" text-anchor="end" fill="#111" stroke="#111" stroke-width="0.25" >2</text>
<text x="245.20000000000002" y="252.44" font-size="8.4" font-weight="bold" text-anchor="end" fill="#111" stroke="#111" stroke-width="0.25" >3</text>
<text x="245.20000000000002" y="224.34" font-size="8.4" font-weight="bold" text-anchor="end" fill="#111" stroke="#111" stroke-width="0.25" >4</text>
<text x="253.4" y="351.7" font-size="9.3" font-weight="bold" text-anchor="start" fill="#111" stroke="#111" stroke-width="0.25" textLength="55.6" lengthAdjust="spacingAndGlyphs" >MDA-MB-231</text>
<text x="317" y="351.7" font-size="9.3" font-weight="bold" text-anchor="start" fill="#111" stroke="#111" stroke-width="0.25" textLength="57" lengthAdjust="spacingAndGlyphs" >MDA-MB-436</text>
<text x="378" y="351.7" font-size="9.3" font-weight="bold" text-anchor="start" fill="#111" stroke="#111" stroke-width="0.25" textLength="63" lengthAdjust="spacingAndGlyphs" >MDA-MB-231R</text>
<text transform="translate(234.6,310.2) rotate(-90)" font-size="9.2" font-weight="bold" fill="#111" stroke="#111" stroke-width="0.25" textLength="65.6" lengthAdjust="spacingAndGlyphs">IC<tspan font-size="6.8" dy="1.7">50</tspan><tspan dy="-1.7"> value (μM)</tspan></text>
<text x="383.6" y="206.1" font-size="9.7" font-weight="normal" text-anchor="start" fill="#333" stroke="#333" stroke-width="0.25" textLength="40.4" lengthAdjust="spacingAndGlyphs" >scramble</text>
<text x="383.6" y="222.1" font-size="9.7" font-weight="normal" text-anchor="start" fill="#333" stroke="#333" stroke-width="0.25" textLength="48.6" lengthAdjust="spacingAndGlyphs" >siACSL4#1</text>
<text x="484.4" y="337.94" font-size="8.4" font-weight="bold" text-anchor="end" fill="#111" stroke="#111" stroke-width="0.25" textLength="10.86" lengthAdjust="spacingAndGlyphs" >0.0</text>
<text x="484.4" y="310.54" font-size="8.4" font-weight="bold" text-anchor="end" fill="#111" stroke="#111" stroke-width="0.25" textLength="10.86" lengthAdjust="spacingAndGlyphs" >0.5</text>
<text x="484.4" y="283.14" font-size="8.4" font-weight="bold" text-anchor="end" fill="#111" stroke="#111" stroke-width="0.25" textLength="10.86" lengthAdjust="spacingAndGlyphs" >1.0</text>
<text x="484.4" y="255.74" font-size="8.4" font-weight="bold" text-anchor="end" fill="#111" stroke="#111" stroke-width="0.25" textLength="10.86" lengthAdjust="spacingAndGlyphs" >1.5</text>
<text x="484.4" y="228.34" font-size="8.4" font-weight="bold" text-anchor="end" fill="#111" stroke="#111" stroke-width="0.25" textLength="10.86" lengthAdjust="spacingAndGlyphs" >2.0</text>
<text x="495" y="351.7" font-size="9.3" font-weight="bold" text-anchor="start" fill="#111" stroke="#111" stroke-width="0.25" textLength="55.6" lengthAdjust="spacingAndGlyphs" >MDA-MB-231</text>
<text x="559" y="351.7" font-size="9.3" font-weight="bold" text-anchor="start" fill="#111" stroke="#111" stroke-width="0.25" textLength="56.6" lengthAdjust="spacingAndGlyphs" >MDA-MB-436</text>
<text x="619.6" y="351.7" font-size="9.3" font-weight="bold" text-anchor="start" fill="#111" stroke="#111" stroke-width="0.25" textLength="62.0" lengthAdjust="spacingAndGlyphs" >MDA-MB-231R</text>
<text transform="translate(467.5,311.7) rotate(-90)" font-size="9.2" font-weight="bold" fill="#111" stroke="#111" stroke-width="0.25" textLength="64.3" lengthAdjust="spacingAndGlyphs">IC<tspan font-size="6.8" dy="1.7">50</tspan><tspan dy="-1.7"> value (μM)</tspan></text>
<text x="634.7" y="207.7" font-size="9.7" font-weight="normal" text-anchor="start" fill="#333" stroke="#333" stroke-width="0.25" textLength="39.4" lengthAdjust="spacingAndGlyphs" >scramble</text>
<text x="634.7" y="223.6" font-size="9.7" font-weight="normal" text-anchor="start" fill="#333" stroke="#333" stroke-width="0.25" textLength="48.4" lengthAdjust="spacingAndGlyphs" >siACSL4#2</text>
<text x="310" y="60.8" font-size="9.5" font-weight="bold" text-anchor="start" fill="#111" textLength="32" lengthAdjust="spacingAndGlyphs" >control</text>
<text x="370.6" y="60.8" font-size="9.5" font-weight="bold" text-anchor="start" fill="#111" textLength="20.0" lengthAdjust="spacingAndGlyphs" >DOX</text>
<text x="428" y="60.8" font-size="9.5" font-weight="bold" text-anchor="start" fill="#111" textLength="31.6" lengthAdjust="spacingAndGlyphs" >control</text>
<text x="488.6" y="60.8" font-size="9.5" font-weight="bold" text-anchor="start" fill="#111" textLength="19.4" lengthAdjust="spacingAndGlyphs" >DOX</text>
<text x="546" y="60.8" font-size="9.5" font-weight="bold" text-anchor="start" fill="#111" textLength="31.6" lengthAdjust="spacingAndGlyphs" >control</text>
<text x="606.4" y="60.8" font-size="9.5" font-weight="bold" text-anchor="start" fill="#111" textLength="19.2" lengthAdjust="spacingAndGlyphs" >DOX</text>
<text x="261" y="84.8" font-size="9.8" font-weight="bold" text-anchor="start" fill="#111" textLength="27.2" lengthAdjust="spacingAndGlyphs" >ACSL4</text>
<text x="257" y="119.1" font-size="9.8" font-weight="bold" text-anchor="start" fill="#111" textLength="32.2" lengthAdjust="spacingAndGlyphs" >GAPDH</text>
<text x="323" y="144.2" font-size="9.6" font-weight="bold" text-anchor="start" fill="#111" textLength="61" lengthAdjust="spacingAndGlyphs" >MDA-MB-231</text>
<text x="438.6" y="144.2" font-size="9.6" font-weight="bold" text-anchor="start" fill="#111" textLength="60.8" lengthAdjust="spacingAndGlyphs" >MDA-MB-436</text>
<text x="552.6" y="144.2" font-size="9.6" font-weight="bold" text-anchor="start" fill="#111" textLength="66.8" lengthAdjust="spacingAndGlyphs" >MDA-MB-213R</text>
</g>
</svg>
</body></html>
